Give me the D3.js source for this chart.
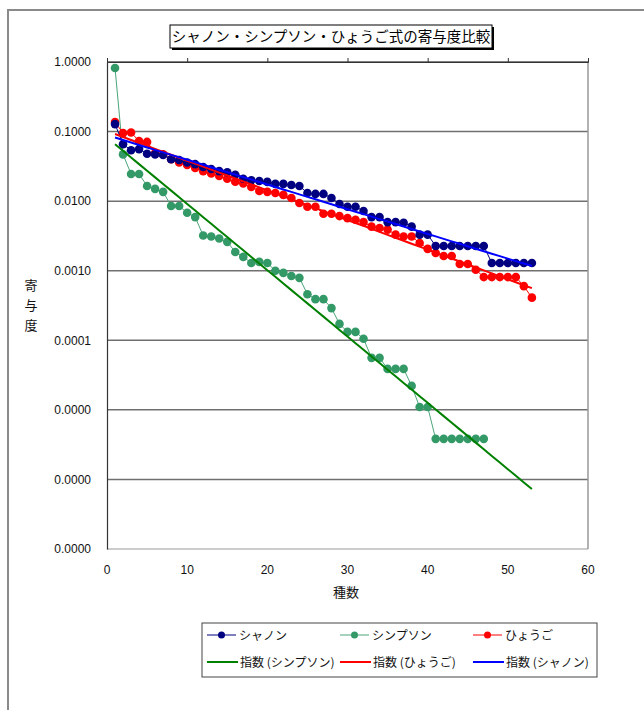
<!DOCTYPE html>
<html><head><meta charset="utf-8">
<script src="https://cdn.jsdelivr.net/npm/d3@7"></script>
<style>
html,body{margin:0;padding:0;background:#fff;}
svg{display:block;}
</style></head>
<body>
<script>
// ---- data ----
const title = "シャノン・シンプソン・ひょうご式の寄与度比較";
const xTicks = [0, 10, 20, 30, 40, 50, 60];
const yTicks = [1, 0.1, 0.01, 0.001, 0.0001, 0.00001, 0.000001, 0.0000001];
const yTickLabels = ["1.0000","0.1000","0.0100","0.0010","0.0001","0.0000","0.0000","0.0000"];
const shannonX = d3.range(1, 54);
const shannon = [0.128,0.066,0.054,0.056,0.048,0.047,0.046,0.040,0.039,0.036,
  0.034,0.031,0.029,0.027,0.026,0.024,0.021,0.020,0.0195,0.0189,
  0.0177,0.0177,0.0171,0.0165,0.0131,0.0127,0.0127,0.0111,0.0091,0.0083,
  0.0083,0.0072,0.0059,0.0059,0.0050,0.0050,0.0049,0.0043,0.0033,0.0033,
  0.00227,0.00227,0.00227,0.00227,0.00227,0.00227,0.00227,
  0.00129,0.00129,0.00129,0.00129,0.00129,0.00129];
const simpsonX = d3.range(1, 48);
const simpson = [0.82,0.047,0.0246,0.0246,0.0165,0.0150,0.0136,0.0085,0.0085,0.0068,
  0.0059,0.0032,0.0031,0.0029,0.0026,0.00186,0.00158,0.00129,0.00134,0.00129,
  0.00100,0.00093,0.00084,0.00079,0.00046,0.00039,0.00039,0.00029,0.000172,0.000132,
  0.000132,0.000105,0.0000559,0.0000559,0.0000388,0.0000388,0.0000388,0.0000221,0.0000110,0.0000110,
  0.00000383,0.00000383,0.00000383,0.00000383,0.00000383,0.00000383,0.00000383];
const hyogoX = d3.range(1, 54);
const hyogo = [0.137,0.095,0.097,0.073,0.071,0.049,0.047,0.040,0.036,0.033,
  0.030,0.027,0.025,0.023,0.021,0.019,0.018,0.016,0.0140,0.0136,
  0.0131,0.0123,0.0111,0.0094,0.0083,0.0083,0.0066,0.0066,0.0061,0.0057,
  0.0054,0.0050,0.0043,0.0041,0.0039,0.0033,0.0031,0.0031,0.0025,0.00206,
  0.0018,0.00163,0.00163,0.00125,0.00125,0.00103,0.00081,0.00081,0.00081,0.00081,
  0.00081,0.00060,0.00041];
const seriesNames = ["シャノン","シンプソン","ひょうご"];
const trendNames = ["指数 (シンプソン)","指数 (ひょうご)","指数 (シャノン)"];
const trendRange = [1, 53];

// ---- layout ----
const W = 644, H = 710;
const svg = d3.select("body").append("svg").attr("width", W).attr("height", H);
const L = 107, R = 588, T = 62, B = 549;
const x = d3.scaleLinear().domain([0, 60]).range([L, R]);
const y = d3.scaleLog().domain([1e-7, 1]).range([B, T]);
const jp = "'Noto Sans CJK JP', sans-serif";
const lat = "'Liberation Sans', Arial, sans-serif";

// outer chart frame
svg.append("rect").attr("x", 8).attr("y", 10).attr("width", 700).attr("height", 760)
  .attr("fill", "none").attr("stroke", "#8a8a8a").attr("stroke-width", 2);

// gridlines
svg.append("g").selectAll("line").data(yTicks.slice(1, -1)).join("line")
  .attr("x1", L).attr("x2", R).attr("y1", d => y(d)).attr("y2", d => y(d))
  .attr("stroke", "#707070").attr("stroke-width", 1.5);

// plot border
svg.append("line").attr("x1", L).attr("x2", R).attr("y1", T).attr("y2", T).attr("stroke", "#555").attr("stroke-width", 1.5);
svg.append("line").attr("x1", R).attr("x2", R).attr("y1", T).attr("y2", B).attr("stroke", "#999").attr("stroke-width", 1.5);
svg.append("line").attr("x1", L).attr("x2", R).attr("y1", B).attr("y2", B).attr("stroke", "#999").attr("stroke-width", 1.2);

// top x-axis (crosses at 1.0) with outward ticks, labels at bottom
const topAxis = svg.append("g").attr("transform", `translate(0,${T})`)
  .call(d3.axisTop(x).tickValues(xTicks).tickSize(4).tickFormat(""));
topAxis.select(".domain").attr("stroke", "#333");
topAxis.selectAll(".tick line").attr("stroke", "#333");
svg.append("g").selectAll("text").data(xTicks).join("text")
  .attr("x", d => x(d)).attr("y", 574).attr("text-anchor", "middle")
  .attr("font-family", lat).attr("font-size", 12).attr("fill", "#111").text(d => d);

// y axis
const yAxis = svg.append("g").attr("transform", `translate(${L},0)`)
  .call(d3.axisLeft(y).tickValues(yTicks).tickSize(0).tickPadding(16)
    .tickFormat((d, i) => yTickLabels[i]));
yAxis.select(".domain").attr("stroke", "#333").attr("stroke-width", 1.2);
yAxis.selectAll("text").attr("font-family", lat).attr("font-size", 12).attr("fill", "#111");

// axis titles
svg.append("text").attr("x", 346).attr("y", 597).attr("text-anchor", "middle")
  .attr("font-family", jp).attr("font-size", 13).attr("fill", "#111").text("種数");
["寄", "与", "度"].forEach((c, i) => {
  svg.append("text").attr("x", 31).attr("y", 290 + i * 20).attr("text-anchor", "middle")
    .attr("font-family", jp).attr("font-size", 13).attr("fill", "#111").text(c);
});

// series
const series = [
  {name: seriesNames[0], xs: shannonX, ys: shannon, line: "#000080", fill: "#000080"},
  {name: seriesNames[1], xs: simpsonX, ys: simpson, line: "#4aa57a", fill: "#339966"},
  {name: seriesNames[2], xs: hyogoX, ys: hyogo, line: "#ff0000", fill: "#ff0000"}
];
const lineGen = d3.line().x(d => x(d[0])).y(d => y(d[1]));
const order = [1, 2, 0];
order.forEach(k => {
  const s = series[k];
  const pts = s.xs.map((v, i) => [v, s.ys[i]]);
  svg.append("path").datum(pts).attr("d", lineGen).attr("fill", "none")
    .attr("stroke", s.line).attr("stroke-width", 1);
  svg.append("g").selectAll("circle").data(pts).join("circle")
    .attr("cx", d => x(d[0])).attr("cy", d => y(d[1])).attr("r", 4.3)
    .attr("fill", s.fill);
});

// exponential trend lines (least squares on log values)
function expFit(xs, ys) {
  const ly = ys.map(v => Math.log(v));
  const mx = d3.mean(xs), my = d3.mean(ly);
  let sxy = 0, sxx = 0;
  xs.forEach((v, i) => { sxy += (v - mx) * (ly[i] - my); sxx += (v - mx) * (v - mx); });
  const b = sxy / sxx, a = my - b * mx;
  return t => Math.exp(a + b * t);
}
const trends = [
  {s: series[1], color: "#008000"},
  {s: series[2], color: "#ff0000"},
  {s: series[0], color: "#0000ff"}
];
trends.forEach(t => {
  const f = expFit(t.s.xs, t.s.ys);
  const pts = d3.range(trendRange[0], trendRange[1] + 0.01, 1).map(v => [v, f(v)]);
  svg.append("path").datum(pts).attr("d", lineGen).attr("fill", "none")
    .attr("stroke", t.color).attr("stroke-width", 2);
});

// title box
const tb = {x: 170, y: 25, w: 322, h: 23};
svg.append("rect").attr("x", tb.x + 2).attr("y", tb.y + 2).attr("width", tb.w).attr("height", tb.h).attr("fill", "#000");
svg.append("rect").attr("x", tb.x).attr("y", tb.y).attr("width", tb.w).attr("height", tb.h)
  .attr("fill", "#fff").attr("stroke", "#000").attr("stroke-width", 1);
svg.append("text").attr("x", tb.x + tb.w / 2).attr("y", tb.y + 17).attr("text-anchor", "middle")
  .attr("font-family", jp).attr("font-size", 14.5).attr("fill", "#000").text(title);

// legend
const lg = svg.append("g");
lg.append("rect").attr("x", 202).attr("y", 623).attr("width", 395).attr("height", 54)
  .attr("fill", "#fff").attr("stroke", "#444").attr("stroke-width", 1);
const colX = [207, 340, 473];
series.forEach((s, i) => {
  const cy = 635;
  lg.append("line").attr("x1", colX[i]).attr("x2", colX[i] + 29).attr("y1", cy).attr("y2", cy)
    .attr("stroke", s.line).attr("stroke-width", 1);
  lg.append("circle").attr("cx", colX[i] + 14.5).attr("cy", cy).attr("r", 3.5).attr("fill", s.fill);
  lg.append("text").attr("x", colX[i] + 32).attr("y", cy + 4.5).attr("font-family", jp)
    .attr("font-size", 12).attr("fill", "#111").text(s.name);
});
trends.forEach((t, i) => {
  const cy = 662;
  lg.append("line").attr("x1", colX[i]).attr("x2", colX[i] + 31).attr("y1", cy).attr("y2", cy)
    .attr("stroke", t.color).attr("stroke-width", 2);
  lg.append("text").attr("x", colX[i] + 33).attr("y", cy + 4.5).attr("font-family", jp)
    .attr("font-size", 12).attr("fill", "#111").text(trendNames[i]);
});
</script>
</body></html>
